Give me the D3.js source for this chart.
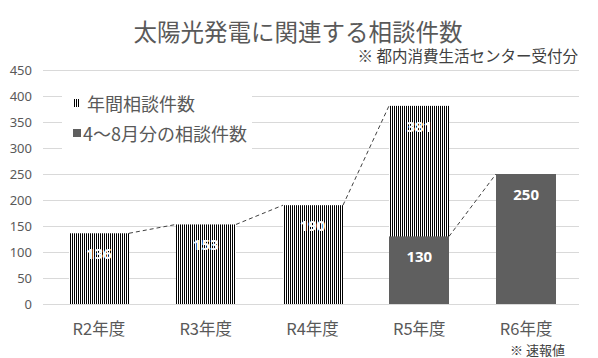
<!DOCTYPE html>
<html><head><meta charset="utf-8">
<script src="https://cdn.jsdelivr.net/npm/d3@7"></script>
<style>
html,body{margin:0;padding:0;background:#fff;}
text{font-family:"Noto Sans CJK JP","Noto Sans",sans-serif;}
</style></head>
<body>
<svg id="chart" width="598" height="358"></svg>
<script>
const categories = ["R2年度","R3年度","R4年度","R5年度","R6年度"];
const annualValues = [136,153,190,381,null];
const partialValues = [null,null,null,130,250];
const yTicks = [0,50,100,150,200,250,300,350,400,450];
const seriesNames = ["年間相談件数","4〜8月分の相談件数"];
const titleText = "太陽光発電に関連する相談件数";
const subtitleText = "※ 都内消費生活センター受付分";
const footnoteText = "※ 速報値";

const svg = d3.select("#chart");
const gray = "#595959";
const dark = "#5f5f5f";

const defs = svg.append("defs");
const pat = defs.append("pattern").attr("id","stripes").attr("patternUnits","userSpaceOnUse")
  .attr("width",2).attr("height",4);
pat.append("rect").attr("width",2).attr("height",4).attr("fill","#fff");
pat.append("rect").attr("width",1).attr("height",4).attr("fill","#000");

const x = d3.scaleBand().domain(categories).range([45.5,579.5]).paddingInner(0.44).paddingOuter(0.22);
const y = d3.scaleLinear().domain([0,450]).range([304,70]);

const yAxis = d3.axisLeft(y).tickValues(yTicks).tickSize(-(579-43)).tickPadding(11);
const gy = svg.append("g").attr("transform","translate(43,0)").call(yAxis);
gy.select(".domain").remove();
gy.selectAll(".tick line").attr("stroke","#d9d9d9").attr("stroke-width",1);
gy.selectAll(".tick text").attr("fill",gray).attr("font-size",13).style("font-family","'Noto Sans',sans-serif");

const xAxis = d3.axisBottom(x).tickSize(0).tickPadding(19);
const gx = svg.append("g").attr("transform","translate(0,304)").call(xAxis);
gx.select(".domain").remove();
gx.selectAll(".tick text").attr("fill",gray).attr("font-size",16.5);

const annual = categories.map((c,i)=>({c,v:annualValues[i]})).filter(d=>d.v!=null);
const partial = categories.map((c,i)=>({c,v:partialValues[i]})).filter(d=>d.v!=null);

svg.append("g").selectAll("rect").data(annual).join("rect")
  .attr("x",d=>Math.round(x(d.c))).attr("width",Math.round(x.bandwidth()))
  .attr("y",d=>y(d.v)).attr("height",d=>y(0)-y(d.v))
  .attr("fill","url(#stripes)");
svg.append("g").selectAll("rect").data(partial).join("rect")
  .attr("x",d=>Math.round(x(d.c))).attr("width",Math.round(x.bandwidth()))
  .attr("y",d=>y(d.v)).attr("height",d=>y(0)-y(d.v))
  .attr("fill",dark);

function seriesLines(data){
  const segs=[];
  for(let i=0;i<data.length-1;i++){
    segs.push({x1:Math.round(x(data[i].c))+Math.round(x.bandwidth()),y1:y(data[i].v),x2:Math.round(x(data[i+1].c)),y2:y(data[i+1].v)});
  }
  return segs;
}
const segs = seriesLines(annual).concat(seriesLines(partial));
svg.append("g").selectAll("line").data(segs).join("line")
  .attr("x1",d=>d.x1).attr("y1",d=>d.y1).attr("x2",d=>d.x2).attr("y2",d=>d.y2)
  .attr("stroke","#404040").attr("stroke-width",1).attr("stroke-dasharray","4,3");

const labels = annual.concat(partial);
svg.append("g").selectAll("text").data(labels).join("text")
  .attr("x",d=>x(d.c)+x.bandwidth()/2).attr("y",d=>y(d.v)+20)
  .attr("text-anchor","middle").attr("dominant-baseline","central")
  .attr("fill","#fff").attr("font-weight","bold").attr("font-size",15)
  .style("font-family","'Noto Sans',sans-serif")
  .text(d=>d.v);

const lg = svg.append("g");
lg.append("rect").attr("x",62).attr("y",86).attr("width",190).attr("height",68).attr("fill","#fff");
lg.append("rect").attr("x",73).attr("y",99).attr("width",7).attr("height",8).attr("fill","url(#stripes)");
lg.append("rect").attr("x",73).attr("y",129).attr("width",8).attr("height",8).attr("fill",dark);
lg.append("text").attr("x",87).attr("y",103).attr("dominant-baseline","central").attr("fill",gray).attr("font-size",18).text(seriesNames[0]);
lg.append("text").attr("x",83).attr("y",133).attr("dominant-baseline","central").attr("fill",gray).attr("font-size",18).text(seriesNames[1]);

svg.append("text").attr("x",298).attr("y",31).attr("text-anchor","middle").attr("dominant-baseline","central")
  .attr("fill",gray).attr("font-size",23.5).text(titleText);
svg.append("text").attr("x",578).attr("y",55).attr("text-anchor","end").attr("dominant-baseline","central")
  .attr("fill","#404040").attr("font-size",15.5).text(subtitleText);
svg.append("text").attr("x",565).attr("y",349).attr("text-anchor","end").attr("dominant-baseline","central")
  .attr("fill","#404040").attr("font-size",13).text(footnoteText);
</script>
</body></html>
